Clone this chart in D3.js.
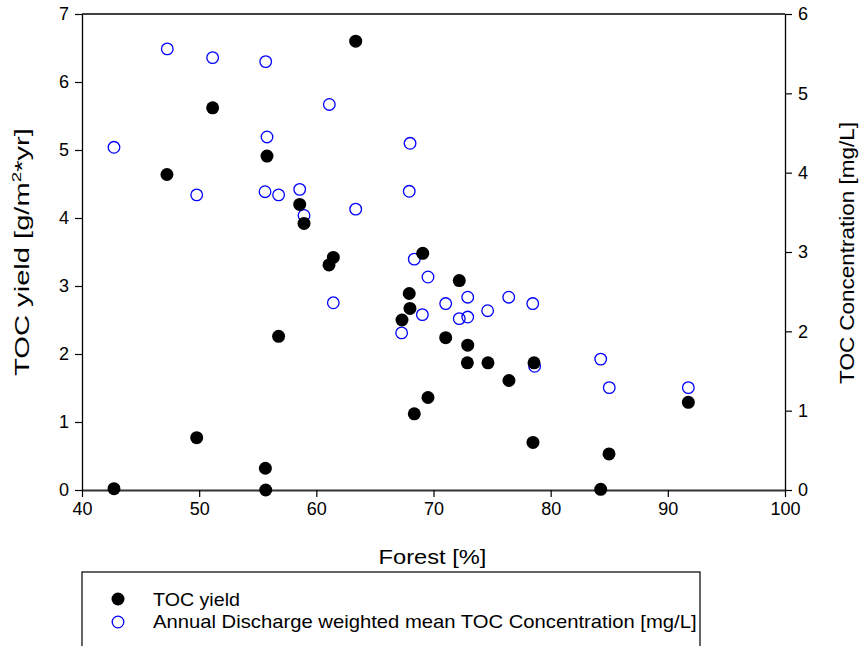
<!DOCTYPE html>
<html>
<head>
<meta charset="utf-8">
<script src="https://cdn.jsdelivr.net/npm/d3@7"></script>
<style>
  body { margin: 0; background: #fff; }
  svg text { font-family: "Liberation Sans", Arial, sans-serif; fill: #000; }
</style>
</head>
<body>
<script>
// forest cover [%] for each catchment, and the two measured series
var forestYield = [42.73, 47.25, 49.79, 51.15, 55.79, 55.65, 55.68, 56.78, 58.58, 58.95,
                   61.08, 61.45, 63.36, 67.31, 67.93, 67.99, 68.36, 69.08, 69.53, 71.04,
                   72.2, 72.92, 72.89, 74.65, 76.44, 78.58, 78.49, 84.27, 84.98, 91.75];
var tocYield = [0.02, 4.64, 0.77, 5.62, 4.91, 0.32, 0.0, 2.26, 4.20, 3.92,
                3.31, 3.42, 6.60, 2.50, 2.89, 2.67, 1.12, 3.48, 1.36, 2.24,
                3.08, 2.13, 1.87, 1.87, 1.61, 1.87, 0.70, 0.01, 0.53, 1.29];

var forestConc = [42.73, 47.28, 49.79, 51.15, 55.68, 55.79, 55.62, 56.78, 58.58, 58.95,
                  61.11, 61.45, 63.36, 67.28, 67.93, 68.0, 68.36, 69.05, 69.53, 71.04,
                  72.2, 72.92, 72.92, 74.62, 76.42, 78.47, 78.63, 84.27, 85.0, 91.75];
var tocConc = [4.32, 5.56, 3.72, 5.45, 5.40, 4.45, 3.76, 3.72, 3.79, 3.46,
               4.86, 2.36, 3.54, 1.98, 3.765, 4.37, 2.91, 2.21, 2.685, 2.35,
               2.16, 2.43, 2.18, 2.26, 2.43, 2.35, 1.56, 1.65, 1.29, 1.29];

var xTicks = [40, 50, 60, 70, 80, 90, 100];
var yLeftTicks = [0, 1, 2, 3, 4, 5, 6, 7];
var yRightTicks = [0, 1, 2, 3, 4, 5, 6];

var legendLabels = ["TOC yield", "Annual Discharge weighted mean TOC Concentration [mg/L]"];

var W = 861, H = 646;
var margin = {top: 14, right: 76, bottom: 156, left: 82},
    width = W - margin.left - margin.right,
    height = H - margin.top - margin.bottom;

var svg = d3.select("body").append("svg")
    .attr("width", W)
    .attr("height", H);

var g = svg.append("g")
    .attr("transform", "translate(" + margin.left + "," + margin.top + ")");

var x = d3.scaleLinear().domain([40, 100]).range([0, width]);
var yL = d3.scaleLinear().domain([0, 7]).range([height, 0]);
var yR = d3.scaleLinear().domain([0, 6]).range([height, 0]);

// stretch a text along its own direction so it spans the wanted length
function fitLength(sel, target) {
    var w = sel.node().getComputedTextLength();
    var t = sel.attr("transform") || "";
    sel.attr("transform", t + " scale(" + (target / w) + ",1)");
}

// top frame line
g.append("line")
    .attr("x1", 0).attr("x2", width)
    .attr("y1", 0).attr("y2", 0)
    .attr("stroke", "#000").attr("stroke-width", 1.5);

function styleAxis(sel) {
    sel.attr("font-family", null).attr("font-size", null);
    sel.selectAll("path").attr("stroke", "#000").attr("stroke-width", 1.3);
    sel.selectAll("line").attr("stroke", "#000").attr("stroke-width", 1.2);
    sel.selectAll("text")
        .style("font-size", "18px")
        .attr("fill", "#000");
}

var fmt = d3.format("d");

g.append("g")
    .attr("transform", "translate(0," + height + ")")
    .call(d3.axisBottom(x).tickValues(xTicks).tickFormat(fmt).tickSize(7).tickSizeOuter(0).tickPadding(5))
    .call(styleAxis)
    .select(".domain").attr("stroke", "#333").attr("stroke-width", 2);

g.append("g")
    .call(d3.axisLeft(yL).tickValues(yLeftTicks).tickFormat(fmt).tickSize(7).tickSizeOuter(0).tickPadding(6))
    .call(styleAxis);

g.append("g")
    .attr("transform", "translate(" + width + ",0)")
    .call(d3.axisRight(yR).tickValues(yRightTicks).tickFormat(fmt).tickSize(7).tickSizeOuter(0).tickPadding(6))
    .call(styleAxis);

// axis titles
var xTitle = g.append("text")
    .attr("transform", "translate(" + (width / 2 - 1) + "," + (height + 74) + ")")
    .attr("text-anchor", "middle")
    .style("font-size", "20px")
    .text("Forest [%]");
fitLength(xTitle, 108);

var leftTitle = g.append("text")
    .attr("transform", "translate(" + (-53) + "," + (height / 2) + ") rotate(-90)")
    .attr("text-anchor", "middle")
    .style("font-size", "20px");
leftTitle.append("tspan").text("TOC yield [g/m");
leftTitle.append("tspan").attr("dy", -8).style("font-size", "13px").text("2");
leftTitle.append("tspan").attr("dy", 8).text("*yr]");
fitLength(leftTitle, 248);

var rightTitle = g.append("text")
    .attr("transform", "translate(" + (width + 69) + "," + (height / 2 + 1) + ") rotate(-90)")
    .attr("text-anchor", "middle")
    .style("font-size", "20px")
    .text("TOC Concentration [mg/L]");
fitLength(rightTitle, 262);

// concentration: open blue circles (right axis)
g.selectAll(".conc")
    .data(tocConc)
    .enter().append("circle")
    .attr("class", "conc")
    .attr("cx", function(d, i) { return x(forestConc[i]); })
    .attr("cy", function(d) { return yR(d); })
    .attr("r", 5.8)
    .attr("fill", "none")
    .attr("stroke", "#0000ff")
    .attr("stroke-width", 1.3);

// yield: filled black circles (left axis)
g.selectAll(".yield")
    .data(tocYield)
    .enter().append("circle")
    .attr("class", "yield")
    .attr("cx", function(d, i) { return x(forestYield[i]); })
    .attr("cy", function(d) { return yL(d); })
    .attr("r", 6.5)
    .attr("fill", "#000");

// legend
var leg = svg.append("g").attr("transform", "translate(82,572)");
leg.append("rect")
    .attr("x", 0).attr("y", 0)
    .attr("width", 618).attr("height", 90)
    .attr("fill", "#fff")
    .attr("stroke", "#000").attr("stroke-width", 1.2);

leg.append("circle")
    .attr("cx", 36).attr("cy", 27).attr("r", 6.5).attr("fill", "#000");
leg.append("circle")
    .attr("cx", 36).attr("cy", 50).attr("r", 5.8)
    .attr("fill", "none").attr("stroke", "#0000ff").attr("stroke-width", 1.3);

var legLengths = [87, 544];
leg.selectAll(".lbl")
    .data(legendLabels)
    .enter().append("text")
    .attr("class", "lbl")
    .attr("transform", function(d, i) { return "translate(71," + (33.5 + i * 22) + ")"; })
    .style("font-size", "18px")
    .text(function(d) { return d; })
    .each(function(d, i) { fitLength(d3.select(this), legLengths[i]); });
</script>
</body>
</html>
